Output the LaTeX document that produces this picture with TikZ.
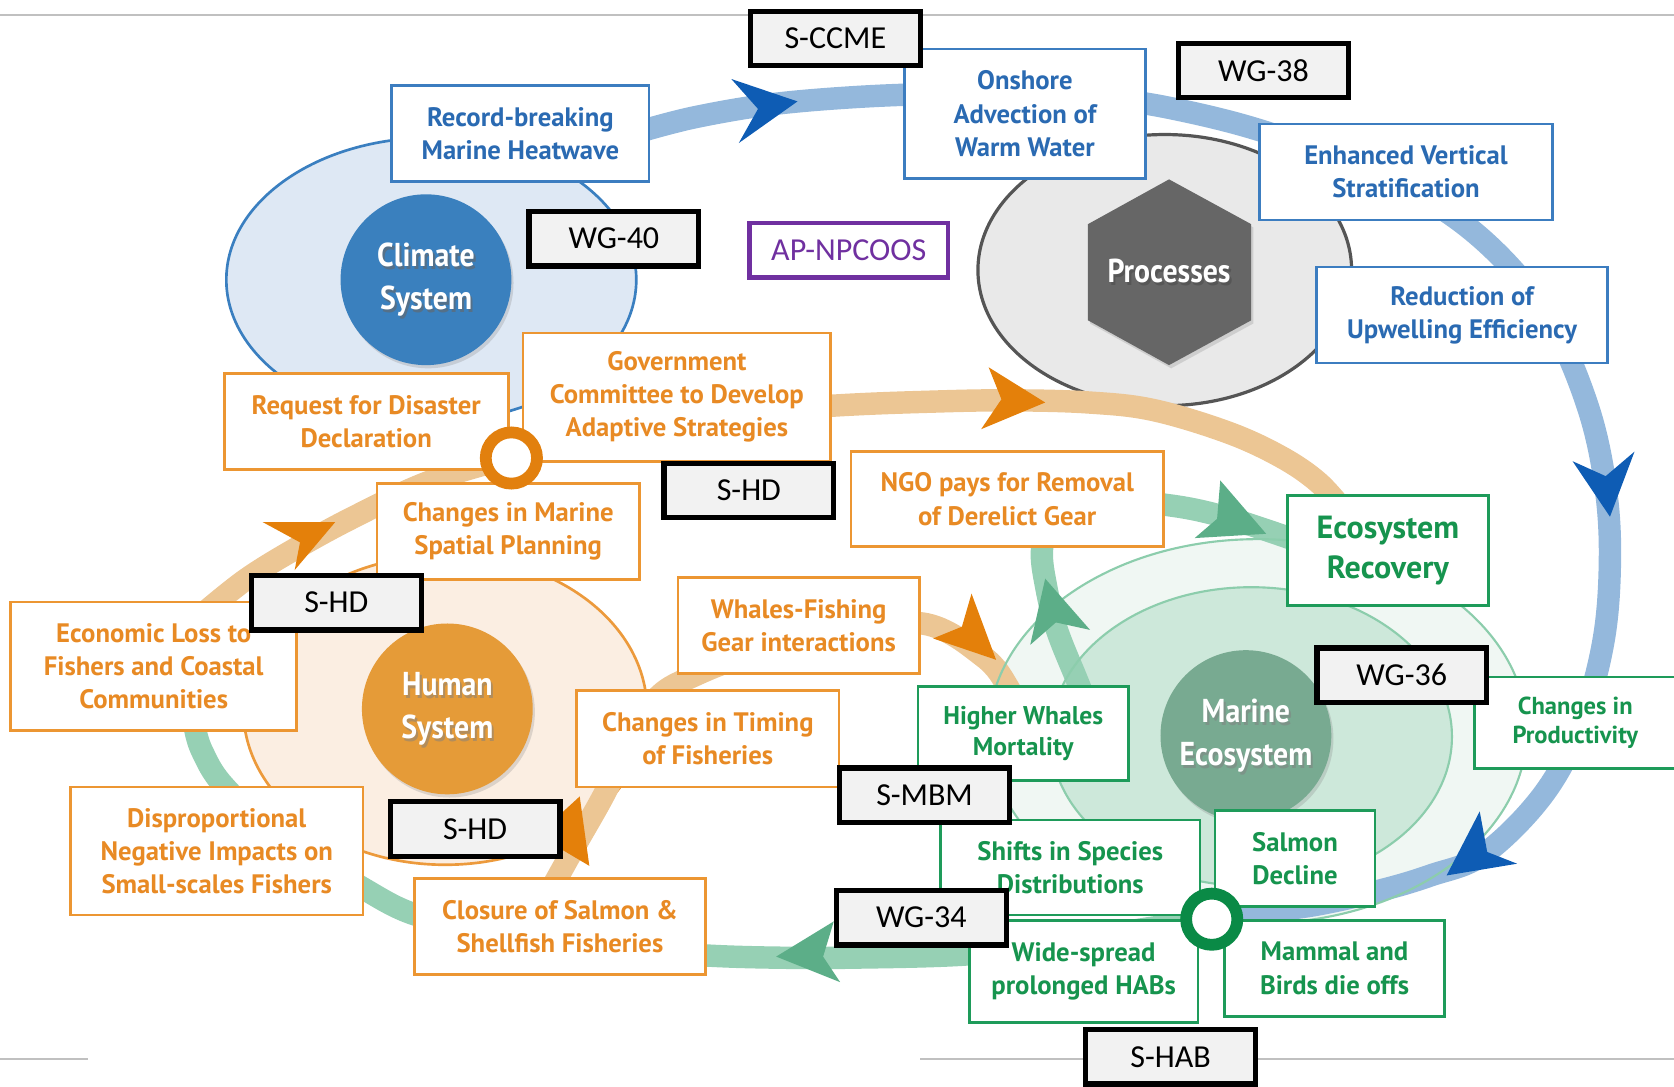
\documentclass[tikz,border=0pt]{standalone}
\usepackage{fontspec}
\newfontfamily\boxfont{PT Sans}
\newfontfamily\hubfont[FakeStretch=0.9]{PT Sans}
\newfontfamily\tagfont{Carlito}
\usetikzlibrary{shadows}

% palette
\definecolor{bBorder}{RGB}{60,125,192}
\definecolor{bText}{RGB}{42,106,178}
\definecolor{oBorder}{RGB}{236,150,50}
\definecolor{oText}{RGB}{232,138,36}
\definecolor{gBorder}{RGB}{30,155,90}
\definecolor{gText}{RGB}{22,148,78}
\definecolor{tagFill}{RGB}{242,242,242}
\definecolor{purpleC}{RGB}{112,48,160}
\definecolor{climFill}{RGB}{222,232,244}
\definecolor{climLine}{RGB}{58,127,192}
\definecolor{climHub}{RGB}{58,128,190}
\definecolor{procFill}{RGB}{233,233,233}
\definecolor{procLine}{RGB}{85,85,85}
\definecolor{hexFill}{RGB}{102,102,102}
\definecolor{humFill}{RGB}{251,238,226}
\definecolor{humLine}{RGB}{236,154,60}
\definecolor{humHub}{RGB}{229,155,56}
\definecolor{marOuter}{RGB}{240,247,243}
\definecolor{marInner}{RGB}{205,232,218}
\definecolor{marLine}{RGB}{140,205,172}
\definecolor{marHub}{RGB}{120,170,145}
\definecolor{bandB}{RGB}{148,184,220}
\definecolor{bandO}{RGB}{236,198,148}
\definecolor{bandG}{RGB}{150,208,180}
\definecolor{headB}{RGB}{14,92,180}
\definecolor{headO}{RGB}{228,128,10}
\definecolor{headG}{RGB}{92,174,136}
\definecolor{ringO}{RGB}{226,128,14}
\definecolor{ringG}{RGB}{10,138,70}
\definecolor{rule}{RGB}{192,192,192}

\tikzset{
  panel/.style={draw, line width=2.5pt, fill=white, align=center, inner sep=0pt,
    font=\boxfont\bfseries\fontsize{25}{31}\selectfont},
  bluepanel/.style={panel, draw=bBorder, text=bText},
  orangepanel/.style={panel, draw=oBorder, text=oText},
  greenpanel/.style={panel, draw=gBorder, text=gText},
  tag/.style={draw=black, line width=5pt, fill=tagFill, minimum width=159,
    minimum height=51, inner sep=0pt, font=\tagfont\fontsize{30}{36}\selectfont},
  hub/.style={circle, minimum size=160, inner sep=0pt, align=center,
    drop shadow={opacity=0.25, shadow xshift=2pt, shadow yshift=-3pt}},
  hubtext/.style={align=center, inner sep=0pt, font=\hubfont\bfseries\fontsize{31}{40}\selectfont},
  band/.style={line width=21pt, line cap=butt},
  ring/.style={circle, line width=11pt, fill=white, minimum size=48, inner sep=0pt},
}

\begin{document}
\begin{tikzpicture}[x=1pt,y=-1pt]
\useasboundingbox (0,0) rectangle (1568,1018);
\clip (0,0) rectangle (1568,1018);

% page rules
\draw[rule, line width=1.5pt] (0,14) -- (1568,14);
\draw[rule, line width=1.5pt] (0,992) -- (82,992);
\draw[rule, line width=1.5pt] (862,992) -- (1568,992);

% system envelopes
\draw[climLine, line width=2.5pt, fill=climFill] (404,262) ellipse [x radius=192, y radius=133];
\draw[procLine, line width=3pt, fill=procFill] (1091,253) ellipse [x radius=175, y radius=127];
\draw[humLine, line width=2.5pt, fill=humFill] (417,665) ellipse [x radius=189, y radius=145];
\fill[marOuter] (1178,685) ellipse [x radius=252, y radius=180];
\fill[marInner] (1172,690) ellipse [x radius=188, y radius=140];

% flow bands
\draw[band, bandB] plot[smooth, tension=0.6] coordinates {
  (600,123) (650,110) (720,98) (800,91) (880,88) (960,89) (1040,93) (1100,102)
  (1180,122) (1270,155) (1350,195) (1410,245) (1455,305) (1487,380) (1503,450)
  (1508,520) (1502,600) (1480,680) (1445,745) (1390,800) (1340,820) (1293,834)
  (1230,848) (1165,856) (1135,861)};
\draw[band, bandO] plot[smooth, tension=0.6] coordinates {
  (190,575) (230,543) (275,515) (330,485) (400,452) (478,428) (560,405) (650,390)
  (780,380) (880,376) (950,375) (1020,377) (1080,384) (1150,405) (1200,428)
  (1235,452) (1260,480)};
\draw[band, bandO] plot[smooth, tension=0.6] coordinates {
  (515,835) (540,790) (567,742) (592,690) (617,652) (650,633) (700,614) (780,595)
  (864,584) (921,615) (945,645) (958,675)};
\draw[band, bandG] plot[smooth, tension=0.6] coordinates {
  (1030,690) (1010,640) (990,590) (980,550) (976,515) (985,485) (1020,468)
  (1093,473) (1150,485) (1225,510)};
\draw[band, bandG] plot[smooth, tension=0.6] coordinates {
  (1135,861) (1060,872) (1000,884) (906,894) (800,897) (727,897) (662,895)
  (600,890) (520,880) (450,870) (387,856) (340,832) (290,800) (245,770)
  (207,733) (190,705) (183,684) (180,660)};

% marine envelope outlines over the bands
\draw[marLine, line width=2pt] (1178,685) ellipse [x radius=252, y radius=180];
\draw[marLine, line width=2pt] (1172,690) ellipse [x radius=188, y radius=140];

% arrow heads
\fill[headB] (747,95) -- (685,74) -- (710,102) -- (692,134) -- cycle;
\fill[headB] (1508,484) -- (1473,432) -- (1504,446) -- (1531,423) -- cycle;
\fill[headB] (1355,820) -- (1386,760) -- (1393,798) -- (1421,809) -- cycle;
\fill[headO] (979,377) -- (926,344) -- (938,374) -- (919,402) -- cycle;
\fill[headO] (314,489) -- (246,489) -- (281,508) -- (276,534) -- cycle;
\fill[headO] (933,618) -- (910,556) -- (901,587) -- (874,598) -- cycle;
\fill[headO] (543,746) -- (552,811) -- (525,795) -- (495,790) -- cycle;
\fill[headG] (1186,500) -- (1143,450) -- (1140,486) -- (1119,504) -- cycle;
\fill[headG] (979,542) -- (1021,590) -- (989,583) -- (965,604) -- cycle;
\fill[headG] (727,896) -- (781,863) -- (771,896) -- (787,920) -- cycle;

% hubs
\node[hub, fill=climHub] (climate) at (399,262) {};
\node[hubtext, text=black!60, opacity=0.6] at (401,265) {Climate\\System};
\node[hubtext, text=white] at (399,262) {Climate\\System};
\node[hub, fill=humHub] (human) at (419,664) {};
\node[hubtext, text=black!50, opacity=0.5] at (421,667) {Human\\System};
\node[hubtext, text=white] at (419,664) {Human\\System};
\node[hub, fill=marHub] (marine) at (1167,689) {};
\node[hubtext, text=black!50, opacity=0.5] at (1169,692) {Marine\\Ecosystem};
\node[hubtext, text=white] at (1167,689) {Marine\\Ecosystem};
\fill[hexFill, drop shadow={opacity=0.25, shadow xshift=2pt, shadow yshift=-3pt}]
  (1095,168) -- (1172,210) -- (1172,300) -- (1095,342) -- (1019,300) -- (1019,210) -- cycle;
\node[hubtext, text=black!70, opacity=0.6] (proc) at (1097,257) {Processes};
\node[hubtext, text=white] at (1095,254) {Processes};

% climate boxes
\node[bluepanel, minimum width=241, minimum height=90] (rec) at (487.5,125) {Record-breaking\\Marine Heatwave};
\node[bluepanel, minimum width=226, minimum height=121] (onshore) at (960,106.5) {Onshore\\Advection of\\Warm Water};
\node[bluepanel, minimum width=274, minimum height=90] (enh) at (1317,161) {Enhanced Vertical\\Stratification};
\node[bluepanel, minimum width=273, minimum height=90] (red) at (1369.5,295) {Reduction of\\Upwelling Efficiency};

% human boxes
\node[orangepanel, minimum width=266, minimum height=90] (req) at (343,395) {Request for Disaster\\Declaration};
\node[orangepanel, minimum width=288, minimum height=120] (gov) at (634,372) {Government\\Committee to Develop\\Adaptive Strategies};
\node[orangepanel, minimum width=293, minimum height=89] (ngo) at (943.5,467.5) {NGO pays for Removal\\of Derelict Gear};
\node[orangepanel, minimum width=246, minimum height=90] (marsp) at (476,498) {Changes in Marine\\Spatial Planning};
\node[orangepanel, minimum width=268, minimum height=120] (econ) at (144,624) {Economic Loss to\\Fishers and Coastal\\Communities};
\node[orangepanel, minimum width=226, minimum height=90] (whales) at (748,586) {Whales-Fishing\\Gear interactions};
\node[orangepanel, minimum width=246, minimum height=90] (timing) at (663,692) {Changes in Timing\\of Fisheries};
\node[orangepanel, minimum width=274, minimum height=120] (disp) at (203,797) {Disproportional\\Negative Impacts on\\Small-scales Fishers};
\node[orangepanel, minimum width=273, minimum height=90] (closure) at (524.5,868) {Closure of Salmon \&\\Shellfish Fisheries};

% ecosystem boxes
\node[greenpanel, minimum width=188, minimum height=103, font=\boxfont\bfseries\fontsize{30}{38}\selectfont] (ecorec) at (1300,515.5) {Ecosystem\\Recovery};
\node[greenpanel, minimum width=189, minimum height=86, font=\boxfont\bfseries\fontsize{23}{28}\selectfont] (prod) at (1475.5,677) {Changes in\\Productivity};
\node[greenpanel, minimum width=197, minimum height=88, font=\boxfont\bfseries\fontsize{24}{29}\selectfont] (higher) at (958.5,687) {Higher Whales\\Mortality};
\node[greenpanel, minimum width=243, minimum height=89] (shifts) at (1002.5,812.5) {Shifts in Species\\Distributions};
\node[greenpanel, minimum width=150, minimum height=90] (salmon) at (1213,804) {Salmon\\Decline};
\node[greenpanel, minimum width=214, minimum height=96] (hab) at (1015,910) {Wide-spread\\prolonged HABs};
\node[greenpanel, minimum width=206, minimum height=90] (mammal) at (1250,907) {Mammal and\\Birds die offs};

% junction rings
\node[ring, draw=ringO] (jhuman) at (479,429) {};
\node[ring, draw=ringG] (jmarine) at (1135,861) {};

% group tags
\node[tag] (sccme) at (782.5,36) {S-CCME};
\node[tag] (wg38) at (1183.5,66) {WG-38};
\node[tag] (wg40) at (575,223.5) {WG-40};
\node[tag, draw=purpleC, line width=4pt, fill=white, text=purpleC, minimum width=186] (apnp) at (795,234.5) {AP-NPCOOS};
\node[tag] (shd1) at (701.5,459.5) {S-HD};
\node[tag] (shd2) at (315,564.5) {S-HD};
\node[tag] (shd3) at (445,776.5) {S-HD};
\node[tag] (wg36) at (1313,632.5) {WG-36};
\node[tag] (smbm) at (866,745) {S-MBM};
\node[tag] (wg34) at (863,859.5) {WG-34};
\node[tag] (shab) at (1096.5,990) {S-HAB};
\end{tikzpicture}
\end{document}
